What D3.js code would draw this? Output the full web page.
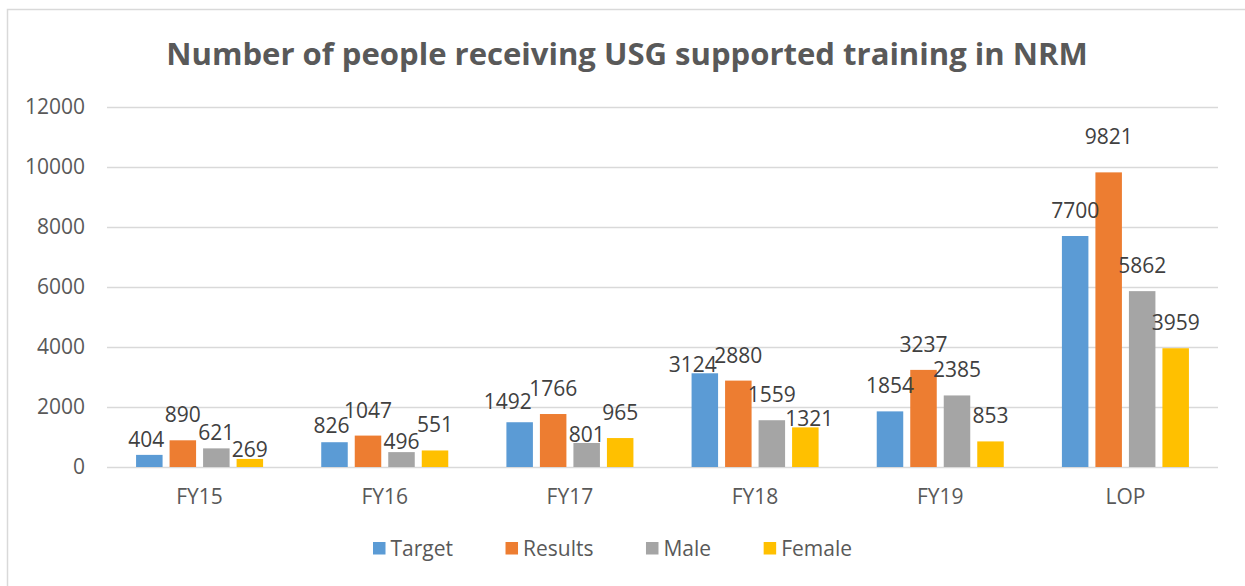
<!DOCTYPE html>
<html>
    <head>
        <style>
            body {
                margin: 0;
                background: #ffffff;
            }

            svg text {
                font-family: "Open Sans", "Noto Sans", sans-serif;
            }
        </style>
        <meta charset="UTF-8">
        <title>Number of people receiving USG supported training in NRM</title>
        <script type="text/javascript" src="https://cdnjs.cloudflare.com/ajax/libs/d3/7.9.0/d3.js"></script>
    </head>
    <body>
    <div id="chart"></div>

    <script>
        // data
        const categories = ["FY15", "FY16", "FY17", "FY18", "FY19", "LOP"];
        const seriesNames = ["Target", "Results", "Male", "Female"];
        const target  = [404, 826, 1492, 3124, 1854, 7700];
        const results = [890, 1047, 1766, 2880, 3237, 9821];
        const male    = [621, 496, 801, 1559, 2385, 5862];
        const female  = [269, 551, 965, 1321, 853, 3959];
        const yTicks  = [0, 2000, 4000, 6000, 8000, 10000, 12000];
        const titleText = "Number of people receiving USG supported training in NRM";

        const seriesValues = [target, results, male, female];
        const colors = ["#5b9bd5", "#ed7d31", "#a5a5a5", "#ffc000"];

        // label nudges (dx, dy) where the labels were moved by hand in the original
        const labelNudge = {
            "FY15|Target": [-3, 10], "FY15|Male": [0, 10], "FY15|Female": [0, 16],
            "FY16|Target": [-3, 9], "FY16|Male": [0, 15],
            "FY17|Target": [-12, 5], "FY17|Male": [0, 17],
            "FY18|Target": [-12, 17], "FY18|Female": [4, 17],
            "LOP|Results": [0, -10]
        };

        // svg setup
        const W = 1245;
        const H = 586;
        const plot = {left: 107, right: 1218, top: 107, bottom: 467};
        const labelGap = 18;

        const svg = d3.select("#chart")
            .append("svg")
                .attr("width", W)
                .attr("height", H);

        // chart border (only top/left visible inside the picture)
        svg.append("rect")
            .attr("x", 7.5)
            .attr("y", 9.5)
            .attr("width", 1300)
            .attr("height", 700)
            .attr("fill", "none")
            .attr("stroke", "#d9d9d9")
            .attr("stroke-width", 1.5);

        // scales
        const x0 = d3.scaleBand()
            .domain(categories)
            .range([plot.left, plot.right]);
        const groupW = x0.bandwidth() * 0.686;
        const x1 = d3.scaleBand()
            .domain(seriesNames)
            .range([0, groupW])
            .paddingInner(0.209);
        const yScale = d3.scaleLinear()
            .domain([0, 12000])
            .range([plot.bottom, plot.top]);

        // gridlines + y labels
        const yAxis = d3.axisLeft(yScale)
            .tickValues(yTicks)
            .tickSize(-(plot.right - plot.left))
            .tickPadding(22)
            .tickFormat(d3.format("d"));
        const yG = svg.append("g")
            .attr("transform", "translate(" + plot.left + ",0)")
            .call(yAxis);
        yG.select(".domain").remove();
        yG.selectAll(".tick line")
            .attr("stroke", "#d9d9d9")
            .attr("stroke-width", 1.3);
        yG.selectAll(".tick text")
            .attr("fill", "#595959")
            .style("font-size", "21px");

        // x labels
        const xAxis = d3.axisBottom(x0).tickSize(0).tickPadding(22);
        const xG = svg.append("g")
            .attr("transform", "translate(0," + plot.bottom + ")")
            .call(xAxis);
        xG.select(".domain").remove();
        xG.selectAll(".tick text")
            .attr("fill", "#595959")
            .style("font-size", "21px");

        // bars
        const groups = svg.selectAll(".grp")
            .data(categories)
            .enter()
            .append("g")
                .attr("class", "grp")
                .attr("transform", d => "translate(" + (x0(d) + (x0.bandwidth() - groupW) / 2) + ",0)");

        const cells = groups.selectAll(".cell")
            .data((c, ci) => seriesNames.map((s, si) => ({cat: c, name: s, si: si, value: seriesValues[si][ci]})))
            .enter();

        cells.append("rect")
            .attr("x", d => x1(d.name))
            .attr("y", d => yScale(d.value))
            .attr("width", x1.bandwidth())
            .attr("height", d => plot.bottom - yScale(d.value))
            .attr("fill", d => colors[d.si]);

        cells.append("text")
            .attr("x", d => x1(d.name) + x1.bandwidth() / 2 + (labelNudge[d.cat + "|" + d.name] || [0, 0])[0])
            .attr("y", d => yScale(d.value) - labelGap + (labelNudge[d.cat + "|" + d.name] || [0, 0])[1])
            .attr("text-anchor", "middle")
            .attr("fill", "#404040")
            .style("font-size", "21px")
            .text(d => d.value);

        // title, sized to the original's width
        const title = svg.append("text")
            .attr("x", 627)
            .attr("y", 65)
            .attr("text-anchor", "middle")
            .attr("fill", "#595959")
            .style("font-weight", "bold")
            .style("font-size", "30px")
            .text(titleText);
        const tw = title.node().getComputedTextLength();
        title.style("font-size", (30 * 922 / tw) + "px");

        // legend: spread over the same span as the original (373 -> 852)
        const legendLeft = 373;
        const legendSpan = 479;
        const legend = svg.append("g").attr("transform", "translate(" + legendLeft + ",556)");
        const items = seriesNames.map((s, i) => {
            const item = legend.append("g");
            item.append("rect")
                .attr("x", 0)
                .attr("y", -14)
                .attr("width", 12.5)
                .attr("height", 12.5)
                .attr("fill", colors[i]);
            const t = item.append("text")
                .attr("x", 17.5)
                .attr("y", 0)
                .attr("fill", "#595959")
                .style("font-size", "21px")
                .text(s);
            return {item: item, w: 17.5 + t.node().getComputedTextLength()};
        });
        const itemsW = d3.sum(items, d => d.w);
        const legendGap = (legendSpan - itemsW) / (items.length - 1);
        let lx = 0;
        items.forEach(d => {
            d.item.attr("transform", "translate(" + lx + ",0)");
            lx += d.w + legendGap;
        });
    </script>
  </body>
</html>
